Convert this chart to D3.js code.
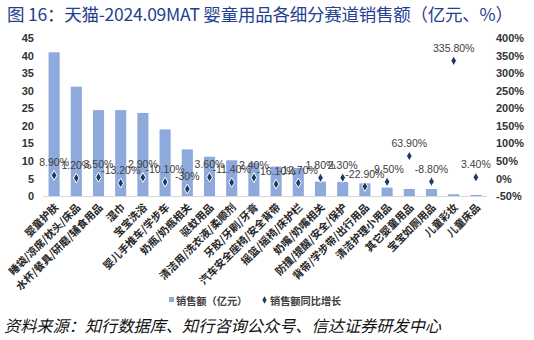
<!DOCTYPE html>
<html><head><meta charset="utf-8">
<script src="https://cdn.jsdelivr.net/npm/d3@7"></script>
<style>
html,body{margin:0;padding:0;background:#fff;}
svg{display:block;}
</style>
</head><body>
<svg id="chart" width="534" height="340"></svg>
<script>
const categories = ["婴童护肤","睡袋/凉席/枕头/床品","水杯/餐具/研磨/辅食用品","湿巾","宝宝洗浴","婴儿手推车/学步车","奶瓶/奶瓶相关","驱蚊用品","清洁用/洗衣液/柔顺剂","牙胶/牙刷/牙膏","汽车安全座椅/安全背带","摇篮/摇椅/床护栏","奶嘴/奶嘴相关","防撞/提醒/安全/保护","背带/学步带/出行用品","清洁护理小用品","其它婴童用品","宝宝如厕用品","儿童彩妆","儿童床品"];
const sales = [41.0,31.2,24.5,24.5,23.7,19.0,13.3,11.2,10.2,9.5,8.4,8.0,4.1,4.0,3.6,2.4,2.0,2.0,0.5,0.3];
const growth = [8.9,1.2,3.5,-13.2,2.9,-10.1,-30,3.6,-11.4,2.4,-16.1,-12.7,1.8,2.3,-22.9,-9.5,63.9,-8.8,335.8,3.4];
const growthLabels = ["8.90%","1.20%","3.50%","-13.20%","2.90%","-10.10%","-30%","3.60%","-11.40%","2.40%","-16.10%","-12.70%","1.80%","2.30%","-22.90%","-9.50%","63.90%","-8.80%","335.80%","3.40%"];
const leftTicks = [0,5,10,15,20,25,30,35,40,45];
const rightTicks = [-50,0,50,100,150,200,250,300,350,400];
const title = "图 16：天猫-2024.09MAT 婴童用品各细分赛道销售额（亿元、%）";
const source = "资料来源：知行数据库、知行咨询公众号、信达证券研发中心";
const legendNames = ["销售额（亿元）","销售额同比增长"];

const barColor = "#8EA9DB", dotColor = "#1F3864";
const svg = d3.select("#chart");
const cjk = "'Noto Sans CJK SC','Noto Sans',sans-serif";
const lat = "'Liberation Sans',Arial,sans-serif";

const x = d3.scaleBand().domain(categories).range([43,487]).paddingInner(0.5).paddingOuter(0.25);
const yL = d3.scaleLinear().domain([0,45]).range([196,38.3]);
const yR = d3.scaleLinear().domain([-50,400]).range([196,38.3]);

// title
svg.append("text").attr("x",7).attr("y",21).attr("font-family",cjk).attr("font-size",17.5)
  .attr("font-weight","normal").attr("fill","#24408E")
  .attr("textLength",506).attr("lengthAdjust","spacing").text(title);

// left axis
const gL = svg.append("g").attr("transform","translate(40,0)")
  .call(d3.axisLeft(yL).tickValues(leftTicks).tickSize(0).tickPadding(6));
gL.select(".domain").remove();
gL.selectAll("text").attr("font-family",lat).attr("font-size",11).attr("font-weight","bold").attr("fill","#333");

// right axis
const gR = svg.append("g").attr("transform","translate(490,0)")
  .call(d3.axisRight(yR).tickValues(rightTicks).tickSize(0).tickPadding(6).tickFormat(d=>d+"%"));
gR.select(".domain").remove();
gR.selectAll("text").attr("font-family",lat).attr("font-size",11).attr("font-weight","bold").attr("fill","#333");

// bars
svg.append("g").selectAll("rect").data(categories).join("rect")
  .attr("x",d=>x(d)).attr("width",x.bandwidth())
  .attr("y",(d,i)=>yL(sales[i])).attr("height",(d,i)=>yL(0)-yL(sales[i]))
  .attr("fill",barColor);

// baseline
svg.append("line").attr("x1",43).attr("x2",487).attr("y1",yL(0)+0.5).attr("y2",yL(0)+0.5)
  .attr("stroke","#D9D9D9").attr("stroke-width",1);

// x labels
const xg = svg.append("g").attr("transform",`translate(0,${yL(0)})`)
  .call(d3.axisBottom(x).tickSize(0).tickPadding(0));
xg.select(".domain").remove();
xg.selectAll("text")
  .attr("font-family",cjk).attr("font-size",10.5).attr("font-weight","bold").attr("fill","#262626")
  .attr("text-anchor","end").attr("dy",0)
  .attr("transform","translate(5,12) rotate(-45)");

// diamonds
const diamond = d3.symbol().type(d3.symbolDiamond).size(28);
svg.append("g").selectAll("path").data(categories).join("path")
  .attr("d",diamond)
  .attr("transform",(d,i)=>`translate(${x(d)+x.bandwidth()/2},${yR(growth[i])})`)
  .attr("fill",dotColor).attr("stroke","#fff").attr("stroke-width",1);

// data labels
svg.append("g").selectAll("text").data(categories).join("text")
  .attr("x",(d,i)=>x(d)+x.bandwidth()/2)
  .attr("y",(d,i)=>yR(growth[i])-9)
  .attr("text-anchor","middle").attr("font-family",lat).attr("font-size",10.5)
  .attr("fill","#404040").text((d,i)=>growthLabels[i]);

// legend
const lg = svg.append("g");
lg.append("rect").attr("x",169).attr("y",297).attr("width",5).attr("height",5).attr("fill",barColor);
lg.append("text").attr("x",176).attr("y",304.5).attr("font-family",cjk).attr("font-size",10.2).attr("font-weight","bold").attr("fill","#404040").text(legendNames[0]);
lg.append("path").attr("d",d3.symbol().type(d3.symbolDiamond).size(16)).attr("transform","translate(264.5,300)").attr("fill",dotColor);
lg.append("text").attr("x",270).attr("y",304.5).attr("font-family",cjk).attr("font-size",10.2).attr("font-weight","bold").attr("fill","#404040").text(legendNames[1]);

// source
svg.append("text").attr("x",4).attr("y",332).attr("font-family",cjk).attr("font-size",16.2)
  .attr("font-style","italic").attr("fill","#111").text(source);
</script>
</body></html>
